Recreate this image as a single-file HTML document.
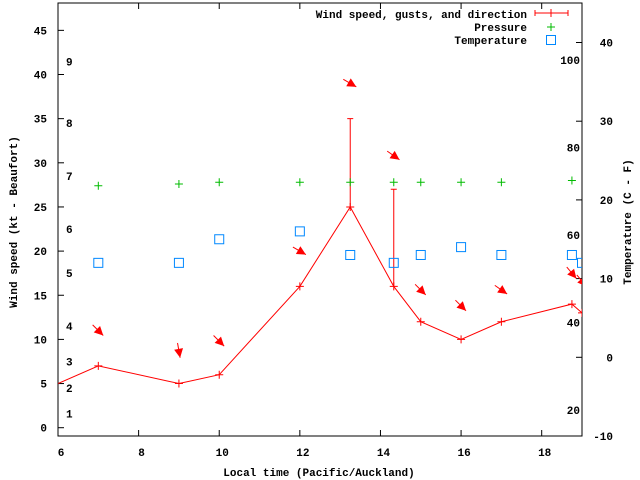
<!DOCTYPE html>
<html><head><meta charset="utf-8"><style>
body{margin:0;background:#fff}
svg{display:block}
text{font-family:"Liberation Mono",monospace;font-size:11px;font-weight:bold;fill:#000}
</style></head><body>
<svg id="chart" width="640" height="480" viewBox="0 0 640 480" xmlns="http://www.w3.org/2000/svg">
<g id="axes"></g><g id="marks"></g>
</svg>
<script>
const windTimes=[6,7,9,10,12,13.25,14.33,15,16,17,18.75,19];
const windSpeed=[5,7,5,6,16,25,16,12,10,12,14,13];
const gustTimes=[13.25,14.33];
const gustLow=[25,16];
const gustHigh=[35,27];
const pressTimes=[7,9,10,12,13.25,14.33,15,16,17,18.75];
const pressValues=[27.4,27.6,27.8,27.8,27.8,27.8,27.8,27.8,27.8,28.0];
const tempTimes=[7,9,10,12,13.25,14.33,15,16,17,18.75,19];
const tempValues=[12,12,15,16,13,12,13,14,13,13,12];
const arrowTimes=[7,9,10,12,13.25,14.33,15,16,17,18.75,19];
const arrowLevels=[11,8.7,9.8,20,39,30.8,15.6,13.8,15.6,17.5,16.6];
const arrowDirs=[315,350,315,300,300,305,315,315,305,320,320];
const xTicks=[6,8,10,12,14,16,18];
const yTicks=[0,5,10,15,20,25,30,35,40,45];
const tTicks=[-10,0,10,20,30,40];
const fLabels=[20,40,60,80,100];
const bfNums=[1,2,3,4,5,6,7,8,9];
const bfLevels=[1.6,4.5,7.5,11.5,17.5,22.5,28.5,34.5,41.5];

const L=58,R=582,T=3,B=436;
const X=t=>L+(t-6)*(R-L)/13;
const Y=v=>427.7-v*8.83;
const YT=c=>357.3-c*7.87;
const NS='http://www.w3.org/2000/svg';
const ax=document.getElementById('axes'),mk=document.getElementById('marks');
function el(tag,a,p,txt){const e=document.createElementNS(NS,tag);for(const k in a)e.setAttribute(k,a[k]);if(txt!==undefined)e.textContent=txt;(p||mk).appendChild(e);return e;}

let e=el('rect',{x:L,y:T,width:R-L,height:B-T,fill:'none',stroke:'#000','stroke-width':1},ax);

xTicks.forEach(t=>{
 let x=X(t);
 let a=el('line',{x1:x,y1:B,x2:x,y2:B-6,stroke:'#000'},ax);
 let b=el('line',{x1:x,y1:T,x2:x,y2:T+6,stroke:'#000'},ax);
 let l=el('text',{x:x+3,y:B+20,'text-anchor':'middle'},ax,String(t));
});
yTicks.forEach(v=>{
 let y=Y(v);
 let a=el('line',{x1:L,y1:y,x2:L+6,y2:y,stroke:'#000'},ax);
 let l=el('text',{x:L-11,y:y+4,'text-anchor':'end'},ax,String(v));
});
tTicks.forEach(c=>{
 let y=YT(c);
 let a=el('line',{x1:R,y1:y,x2:R-6,y2:y,stroke:'#000'},ax);
 let l=el('text',{x:613,y:y+4,'text-anchor':'end'},ax,String(c));
});
fLabels.forEach(f=>{
 let c=(f-32)*5/9;
 let l=el('text',{x:R-2,y:YT(c)+4,'text-anchor':'end'},ax,String(f));
});
bfNums.forEach((n,i)=>{
 let l=el('text',{x:66,y:Y(bfLevels[i])+4},ax,String(n));
});
let t1=el('text',{x:0,y:0,transform:'translate(17,222) rotate(-90)','text-anchor':'middle'},ax,'Wind speed (kt - Beaufort)');

let t2=el('text',{x:0,y:0,transform:'translate(631,222) rotate(-90)','text-anchor':'middle'},ax,'Temperature (C - F)');

let t3=el('text',{x:319,y:476,'text-anchor':'middle'},ax,'Local time (Pacific/Auckland)');


function plus(x,y,c,s){el('path',{d:`M${x-s} ${y}H${x+s}M${x} ${y-s}V${y+s}`,stroke:c,'stroke-width':1,fill:'none'});}

const defs=el('defs',{},document.getElementById('chart'));
const cp=el('clipPath',{id:'clip'},defs);el('rect',{x:L,y:T,width:R-L,height:B-T},cp);
mk.setAttribute('clip-path','url(#clip)');

let pts=windTimes.map((t,i)=>X(t)+','+Y(windSpeed[i])).join(' ');
let wl=el('polyline',{points:pts,fill:'none',stroke:'#f00','stroke-width':1});

windTimes.forEach((t,i)=>{if(t>6)plus(X(t),Y(windSpeed[i]),'#f00',4);});
gustTimes.forEach((t,i)=>{
 let x=X(t);
 let g=el('path',{d:`M${x} ${Y(gustLow[i])}V${Y(gustHigh[i])}M${x-3} ${Y(gustHigh[i])}H${x+3}`,stroke:'#f00','stroke-width':1,fill:'none'});
 
});
pressTimes.forEach((t,i)=>{
 let g=el('path',{d:`M${X(t)-4} ${Y(pressValues[i])}H${X(t)+4}M${X(t)} ${Y(pressValues[i])-4}V${Y(pressValues[i])+4}`,stroke:'#0b0',fill:'none'});
 
});
tempTimes.forEach((t,i)=>{
 let s=el('rect',{x:X(t)-4.5,y:YT(tempValues[i])-4.5,width:9,height:9,fill:'none',stroke:'#08f','stroke-width':1});
 
});
arrowTimes.forEach((t,i)=>{
 const cx=X(t),cy=Y(arrowLevels[i]);
 const a=(arrowDirs[i]-180)*Math.PI/180;
 const dx=Math.sin(a),dy=-Math.cos(a);
 const hx=cx+dx*7,hy=cy+dy*7,tx=cx-dx*8,ty=cy-dy*8;
 const bx=hx-dx*9,by=hy-dy*9,px=-dy,py=dx;
 const g=el('g',{});
 
 el('line',{x1:tx,y1:ty,x2:hx,y2:hy,stroke:'#f00','stroke-width':1},g);
 el('polygon',{points:`${hx},${hy} ${bx+px*4.5},${by+py*4.5} ${bx-px*4.5},${by-py*4.5}`,fill:'#f00'},g);
});

const lg=el('g',{},ax);
let le=el('text',{x:527,y:18,'text-anchor':'end'},lg,'Wind speed, gusts, and direction');
el('path',{d:'M535 13H568M535 10V16M568 10V16M551 9V17',stroke:'#f00',fill:'none'},lg);
let le2=el('text',{x:527,y:31,'text-anchor':'end'},lg,'Pressure');
el('path',{d:'M547 27H555M551 23V31',stroke:'#0b0',fill:'none'},lg);
let le3=el('text',{x:527,y:44,'text-anchor':'end'},lg,'Temperature');
el('rect',{x:546.5,y:35.5,width:9,height:9,fill:'none',stroke:'#08f'},lg);
</script>
</body></html>
